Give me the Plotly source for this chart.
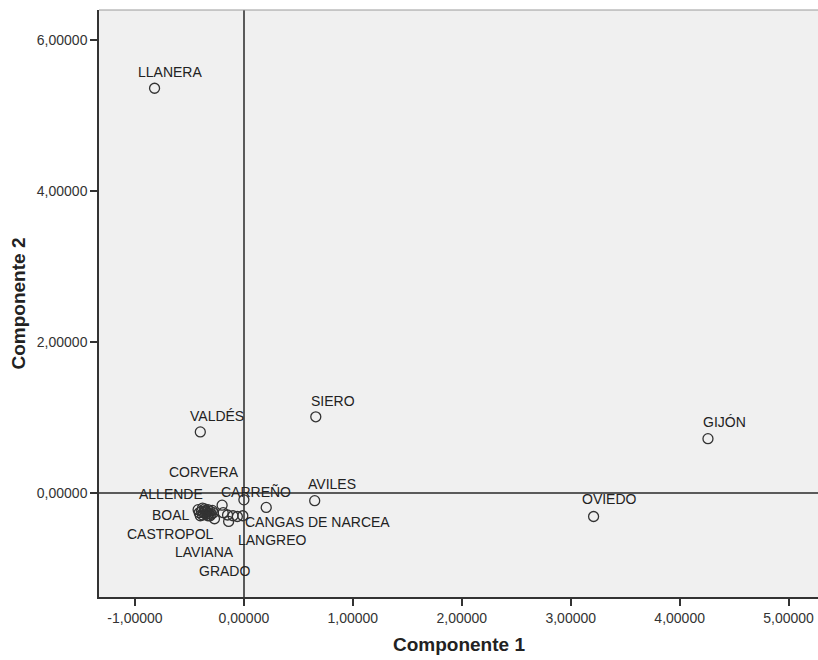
import plotly.graph_objects as go

# Labeled municipalities (Componente 1, Componente 2)
names = ["LLANERA", "VALDÉS", "SIERO", "GIJÓN", "OVIEDO", "AVILES", "CARREÑO",
         "CANGAS DE NARCEA", "LANGREO", "GRADO", "LAVIANA", "CASTROPOL",
         "BOAL", "ALLENDE", "CORVERA"]
comp1 = [-0.82, -0.40, 0.66, 4.26, 3.21, 0.65, 0.00,
         -0.01, -0.06, -0.14, -0.27, -0.40, -0.42, -0.38, -0.35]
comp2 = [5.36, 0.81, 1.01, 0.72, -0.31, -0.10, -0.09,
         -0.30, -0.31, -0.375, -0.34, -0.30, -0.22, -0.20, -0.23]

# Unlabeled municipalities
other_c1 = [0.205, -0.20, -0.19, -0.15, -0.10, -0.41, -0.39, -0.37, -0.36, -0.35,
            -0.34, -0.33, -0.32, -0.31, -0.30, -0.29, -0.38, -0.33, -0.28, -0.36, -0.31]
other_c2 = [-0.19, -0.16, -0.26, -0.29, -0.30, -0.26, -0.24, -0.26, -0.21, -0.28,
            -0.25, -0.22, -0.27, -0.24, -0.28, -0.23, -0.29, -0.30, -0.26, -0.24, -0.30]

x_tickvals = [-1, 0, 1, 2, 3, 4, 5]
x_ticktext = ["-1,00000", "0,00000", "1,00000", "2,00000", "3,00000", "4,00000", "5,00000"]
y_tickvals = [0, 2, 4, 6]
y_ticktext = ["0,00000", "2,00000", "4,00000", "6,00000"]
x_title = "Componente 1"
y_title = "Componente 2"

# label offsets in pixels (styling): (xshift, yshift)
label_shift = {
    "LLANERA": (15, 16), "VALDÉS": (17, 16), "SIERO": (17, 16), "GIJÓN": (17, 17),
    "OVIEDO": (16, 17), "AVILES": (17, 17), "CARREÑO": (12, 8),
    "CANGAS DE NARCEA": (75, -6), "LANGREO": (35, -24), "GRADO": (-4, -50),
    "LAVIANA": (-10, -33), "CASTROPOL": (-30, -18), "BOAL": (-27, -5),
    "ALLENDE": (-31, 14), "CORVERA": (-2, 38),
}

FONT = "Liberation Sans, Arial, sans-serif"
marker = dict(symbol="circle-open", size=10, color="#333333", line=dict(width=1.3, color="#333333"))

fig = go.Figure()
fig.add_trace(go.Scatter(x=other_c1, y=other_c2, mode="markers", marker=marker,
                         showlegend=False, hoverinfo="skip"))
fig.add_trace(go.Scatter(x=comp1, y=comp2, mode="markers", marker=marker,
                         text=names, showlegend=False))

for n, a, b in zip(names, comp1, comp2):
    dx, dy = label_shift[n]
    fig.add_annotation(x=a, y=b, text=n, showarrow=False, xshift=dx, yshift=dy,
                       font=dict(family=FONT, size=14, color="#222222"))

fig.add_annotation(xref="paper", yref="paper", x=0.5, y=0, yanchor="top", yshift=-35,
                   text="<b>" + x_title + "</b>", showarrow=False,
                   font=dict(family=FONT, size=19, color="#222222"))
fig.add_annotation(xref="paper", yref="paper", x=0, y=0.5, xanchor="center", xshift=-81,
                   textangle=-90, text="<b>" + y_title + "</b>", showarrow=False,
                   font=dict(family=FONT, size=19, color="#222222"))

fig.update_layout(
    width=818, height=660,
    margin=dict(l=99, r=0, t=10, b=63, autoexpand=False),
    paper_bgcolor="white", plot_bgcolor="#F0F0F0",
    font=dict(family=FONT, size=14, color="#333333"),
)
common = dict(showgrid=False, zeroline=True, zerolinecolor="#5a5a5a", zerolinewidth=2,
              showline=True, linecolor="#333333", linewidth=1.5, mirror=False,
              ticks="outside", ticklen=7, tickcolor="#333333", tickwidth=1.5,
              tickfont=dict(family=FONT, size=14, color="#333333"), automargin=False)
fig.update_xaxes(range=[-1.33, 5.27], tickvals=x_tickvals, ticktext=x_ticktext, **common)
fig.update_yaxes(range=[-1.376, 6.396], tickvals=y_tickvals, ticktext=y_ticktext, **common)
fig.add_shape(type="line", xref="paper", yref="paper", x0=0, x1=1, y0=1, y1=1,
              line=dict(color="#9a9a9a", width=1))

fig.write_html("out.html", config={"displayModeBar": False},
               post_script="document.body.style.margin='0px';document.body.style.overflow='hidden';")
